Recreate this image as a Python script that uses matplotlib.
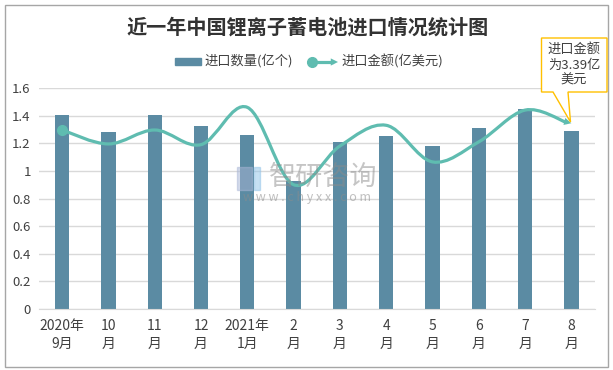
#!/usr/bin/env python3
"""China lithium-ion battery imports, Sep 2020 - Aug 2021."""

import matplotlib
matplotlib.use("Agg")
import matplotlib.pyplot as plt
import numpy as np
from matplotlib.lines import Line2D
from matplotlib.patches import FancyArrowPatch, PathPatch, Polygon, Rectangle
from matplotlib.path import Path

plt.rcParams["font.family"] = ["Noto Sans CJK SC", "DejaVu Sans"]

W, H = 613, 370

months = ["2020年\n9月", "10\n月", "11\n月", "12\n月", "2021年\n1月", "2\n月",
          "3\n月", "4\n月", "5\n月", "6\n月", "7\n月", "8\n月"]
quantity = [1.405, 1.28, 1.405, 1.325, 1.26, 0.93, 1.21, 1.253, 1.18, 1.31, 1.448, 1.29]
amount = [1.296, 1.195, 1.296, 1.19, 1.46, 0.9, 1.18, 1.33, 1.065, 1.21, 1.44, 1.35]
yticks = [0, 0.2, 0.4, 0.6, 0.8, 1, 1.2, 1.4, 1.6]

BAR = "#5b8ba3"
LINE = "#5fbcb0"
TEXT = "#404040"


def smooth_path(x, y, k=0.17):
    """Excel style smoothed line as cubic bezier through the points."""
    x = np.asarray(x, float)
    y = np.asarray(y, float)
    verts = [(x[0], y[0])]
    codes = [Path.MOVETO]
    n = len(x)
    for i in range(n - 1):
        p0 = max(i - 1, 0)
        p3 = min(i + 2, n - 1)
        verts.append((x[i] + k * (x[i + 1] - x[p0]), y[i] + k * (y[i + 1] - y[p0])))
        verts.append((x[i + 1] - k * (x[p3] - x[i]), y[i + 1] - k * (y[p3] - y[i])))
        verts.append((x[i + 1], y[i + 1]))
        codes += [Path.CURVE4] * 3
    return Path(verts, codes)


def fx(px):
    return px / W


def fy(py):
    return 1 - py / H


fig = plt.figure(figsize=(W / 100, H / 100), dpi=100, facecolor="white")
fig.add_artist(Rectangle((fx(4.5), fy(366.5)), 603 / W, 362 / H, transform=fig.transFigure,
                         fill=False, edgecolor="#a6a6a6", linewidth=1))

ax = fig.add_axes([fx(39), fy(309), 555.5 / W, 221 / H])
pos = np.arange(len(months))

ax.bar(pos, quantity, width=0.31, color=BAR, zorder=2)

ax.add_patch(PathPatch(smooth_path(pos[:-1].tolist() + [pos[-1] - 0.1], amount), fill=False,
                       edgecolor=LINE, linewidth=2.3, zorder=3, capstyle="round"))
ax.plot(pos[0], amount[0], "o", color=LINE, markersize=7, zorder=4)
ax.add_patch(FancyArrowPatch((pos[-1] - 0.2, amount[-1] + 0.012), (pos[-1], amount[-1] - 0.005),
                             arrowstyle="-|>", mutation_scale=13, color=LINE, linewidth=0,
                             shrinkA=0, shrinkB=0, zorder=4))

ax.set_xlim(-0.5, len(months) - 0.5)
ax.set_ylim(0, 1.6)
ax.set_yticks(yticks)
ax.set_yticklabels([f"{v:g}" for v in yticks], fontsize=9.5, color=TEXT)
ax.set_xticks(pos)
ax.set_xticklabels(months, fontsize=10, color=TEXT, linespacing=1.4)
ax.tick_params(length=0)
ax.tick_params(axis="x", pad=7)
ax.tick_params(axis="y", pad=6)
ax.grid(axis="y", color="#d9d9d9", linewidth=1, zorder=0)
ax.set_axisbelow(True)
for side, spine in ax.spines.items():
    spine.set_visible(side == "bottom")
ax.spines["bottom"].set_color("#d9d9d9")

fig.text(fx(308), fy(27), "近一年中国锂离子蓄电池进口情况统计图", ha="center", va="center",
         fontsize=14.5, fontweight="bold", color="#333333")

# legend, placed by hand because of the arrow on the line key
fig.add_artist(Rectangle((fx(175), fy(65)), 26 / W, 7 / H, transform=fig.transFigure, color=BAR))
fig.text(fx(204), fy(61), "进口数量(亿个)", ha="left", va="center", fontsize=9.5, color=TEXT)
fig.add_artist(Line2D([fx(312), fx(332)], [fy(62), fy(62)], transform=fig.transFigure,
                      color=LINE, linewidth=2.3))
fig.add_artist(Line2D([fx(312)], [fy(62)], transform=fig.transFigure, color=LINE,
                      marker="o", markersize=7))
fig.add_artist(FancyArrowPatch((fx(326), fy(62)), (fx(338), fy(62)), transform=fig.transFigure,
                               arrowstyle="-|>", mutation_scale=13, color=LINE, linewidth=0,
                               shrinkA=0, shrinkB=0))
fig.text(fx(341), fy(61), "进口金额(亿美元)", ha="left", va="center", fontsize=9.5, color=TEXT)

# watermark
fig.text(fx(323), fy(177), "智研咨询", ha="center", va="center", fontsize=19.5,
         color="#8c8c8c", alpha=0.5, zorder=5)
fig.text(fx(307), fy(197), "w w w . c h y x x . c o m", ha="center", va="center", fontsize=9,
         color="#8c8c8c", alpha=0.55, zorder=5)
fig.add_artist(Rectangle((fx(237), fy(190)), 15 / W, 23 / H, transform=fig.transFigure,
                         color="#a9b6d6", alpha=0.5, zorder=5))
fig.add_artist(Rectangle((fx(254), fy(190)), 6 / W, 23 / H, transform=fig.transFigure,
                         color="#8fc3e8", alpha=0.5, zorder=5))

# callout
callout = [(541.5, 38), (607, 38), (607, 92), (568, 92), (570.5, 122), (553, 92), (541.5, 92)]
fig.add_artist(Polygon([(fx(px), fy(py)) for px, py in callout], closed=True,
                       transform=fig.transFigure, facecolor="white", edgecolor="#ffc000",
                       linewidth=1, zorder=6))
fig.text(fx(574), fy(65), "进口金额\n为3.39亿\n美元", ha="center", va="center", fontsize=9.5,
         color=TEXT, linespacing=1.25, zorder=7)

fig.savefig("out.png", dpi=100)
